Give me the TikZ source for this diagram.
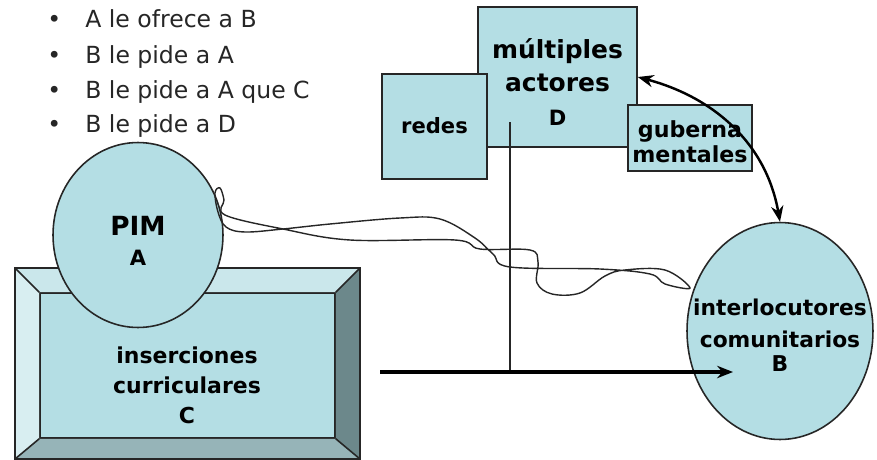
\documentclass[tikz,border=0pt]{standalone}
\usepackage{fontspec}
\setmainfont{DejaVu Sans}
\usetikzlibrary{shapes.geometric,arrows.meta}

\definecolor{celeste}{RGB}{180,222,228}
\definecolor{biseltop}{RGB}{202,231,235}
\definecolor{biselizq}{RGB}{216,238,241}
\definecolor{biselder}{RGB}{108,136,139}
\definecolor{biselbajo}{RGB}{150,180,184}

\tikzset{
  caja/.style={draw=black!85,fill=celeste,line width=0.9pt,inner sep=0pt},
  globo/.style={ellipse,draw=black!85,fill=celeste,line width=0.9pt,inner sep=0pt},
  texto/.style={anchor=base,align=center,inner sep=0pt,font=\bfseries\fontsize{12.5}{17}\selectfont},
  punto/.style={anchor=base west,inner sep=0pt,font=\fontsize{13.4}{15}\selectfont,text=black!85},
  flecha/.style={line width=1.8pt,-{Stealth[length=9pt,width=7pt]}}
}

\begin{document}
\begin{tikzpicture}[x=0.02cm,y=-0.02cm]
\useasboundingbox (0,0) rectangle (877,460);

% lista
\node[punto] (p1) at (47,27) {\makebox[0.76cm][l]{•}A le ofrece a B};
\node[punto] (p2) at (47,63) {\makebox[0.76cm][l]{•}B le pide a A};
\node[punto] (p3) at (47,98) {\makebox[0.76cm][l]{•}B le pide a A que C};
\node[punto] (p4) at (47,132) {\makebox[0.76cm][l]{•}B le pide a D};

% caja biselada C
\coordinate (Cnw) at (15,268);
\coordinate (Cse) at (360,459);
\node[caja,minimum width=5.9cm,minimum height=2.9cm] (C) at (187.5,365.5) {};
\fill[biseltop] (Cnw) -- (Cnw -| Cse) -- (C.north east) -- (C.north west) -- cycle;
\fill[biselizq] (Cnw) -- (C.north west) -- (C.south west) -- (Cnw |- Cse) -- cycle;
\fill[biselder] (Cnw -| Cse) -- (Cse) -- (C.south east) -- (C.north east) -- cycle;
\fill[biselbajo] (Cnw |- Cse) -- (C.south west) -- (C.south east) -- (Cse) -- cycle;
\draw[line width=0.9pt,black!85] (Cnw) rectangle (Cse);
\draw[line width=0.9pt,black!85] (Cnw) -- (C.north west) (Cnw -| Cse) -- (C.north east)
  (Cse) -- (C.south east) (Cnw |- Cse) -- (C.south west);
\node[texto] (Clabel) at (187,423) {inserciones\\curriculares\\C};

% PIM
\node[globo,minimum width=3.4cm,minimum height=3.7cm] (A) at (138,235) {};
\node[texto,font=\bfseries\fontsize{12}{17}\selectfont] (Alabel) at (138,265) {{\fontsize{15}{17}\selectfont PIM}\\A};

% actores
\node[caja,minimum width=3.18cm,minimum height=2.8cm] (D) at (557.5,77) {};
\node[texto,font=\bfseries\fontsize{14.2}{19}\selectfont] (Dlabel) at (557.5,125) {múltiples\\actores\\{\fontsize{12}{19}\selectfont D}};
\node[caja,minimum width=2.1cm,minimum height=2.1cm] (redes) at (434.5,126.5) {};
\node[texto,font=\bfseries\fontsize{12}{14}\selectfont] (redeslabel) at (434.5,133) {redes};
\node[caja,minimum width=2.48cm,minimum height=1.32cm] (guber) at (690,138) {};
\node[texto,font=\bfseries\fontsize{12.6}{14}\selectfont] (guberlabel) at (690,162) {guberna\\mentales};

% interlocutores
\node[globo,minimum width=3.72cm,minimum height=4.34cm] (B) at (780,331) {};
\node[texto,font=\bfseries\fontsize{12.4}{18}\selectfont] (Blabel) at (780,371) {interlocutores\\comunitarios\\[-4.4pt]B};

% ejes
\coordinate (vtop) at (510,122);
\coordinate (cruce) at (510,372);
\coordinate (hini) at (380,372);
\coordinate (hfin) at (733,372);
\draw[line width=1pt,black!85] (vtop) -- (cruce);
\draw[flecha] (hini) -- (hfin);

\draw[line width=1.4pt,{Stealth[length=9pt,width=7pt]}-{Stealth[length=9pt,width=7pt]}] (D.east) to[out=-15,in=100] (B.north);

% trazo
\draw[line width=0.8pt,black!85] plot[smooth cycle,tension=0.6] coordinates {
  (225,215) (283,229) (350,240) (455,240) (480,249) (530,250) (538,262)
  (537,283) (552,294) (580,293) (605,276) (625,270) (665,270) (690,288) (665,284)
  (650,274) (600,269) (510,267) (493,254) (475,238) (440,219) (400,218) (330,224)
  (283,229) (245,232) (226,227) (218,212) (215,193) (220,188) (224,200)};
\end{tikzpicture}
\end{document}
